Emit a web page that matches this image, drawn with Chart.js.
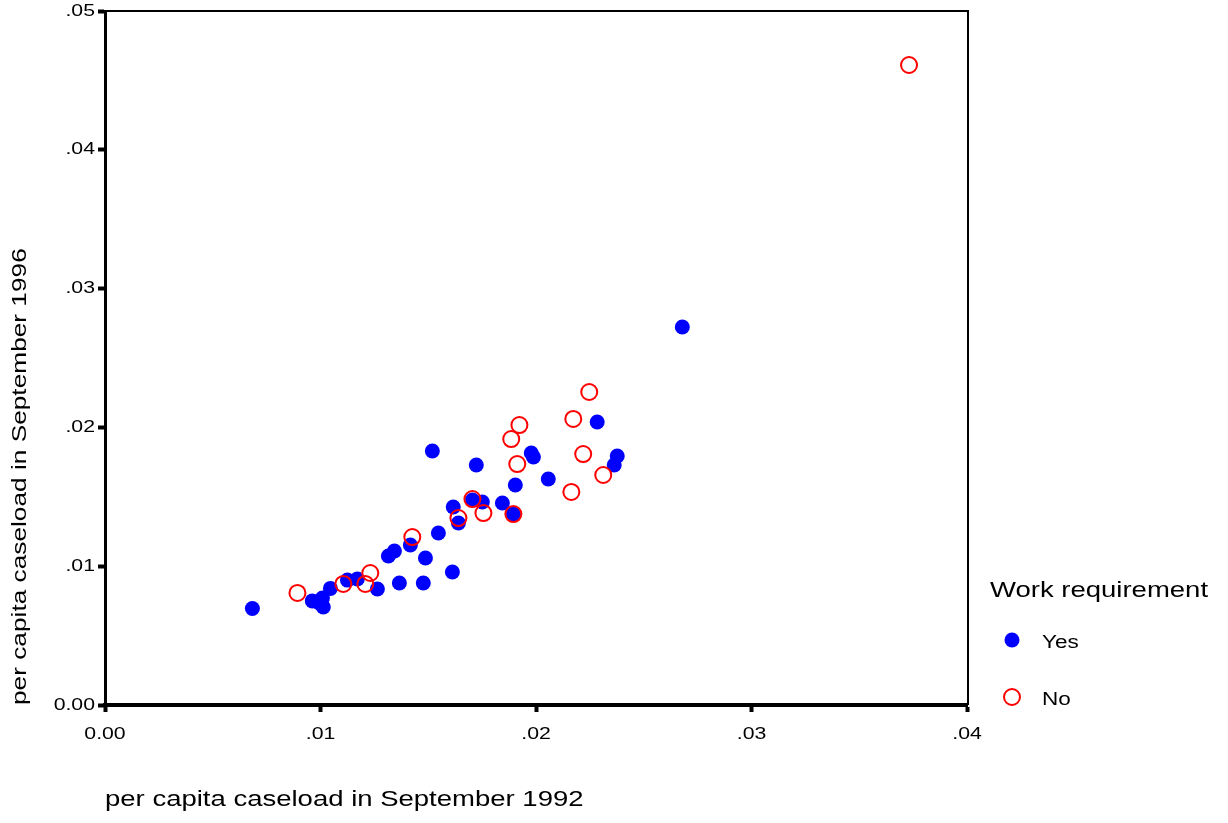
<!DOCTYPE html>
<html><head><meta charset="utf-8">
<style>html,body{margin:0;padding:0;background:#fff;overflow:hidden}</style>
<script src="https://cdn.jsdelivr.net/npm/chart.js@4/dist/chart.umd.min.js"></script>
</head><body>
<canvas id="c" width="1228" height="823" style="width:1228px;height:823px;display:block"></canvas>
<script>
const seriesNames = ['Yes', 'No'];
const legendTitle = 'Work requirement';
const xTitle = 'per capita caseload in September 1992';
const yTitle = 'per capita caseload in September 1996';
const xTickLabels = ['0.00', '.01', '.02', '.03', '.04'];
const yTickLabels = ['0.00', '.01', '.02', '.03', '.04', '.05'];

const yesX = [0.00684, 0.00962, 0.01009, 0.01013, 0.00995, 0.01046, 0.01125, 0.01171, 0.01264, 0.01315, 0.01343,
  0.01366, 0.01417, 0.01487, 0.01477, 0.01519, 0.01547, 0.01616, 0.01612, 0.01640, 0.01705, 0.01751, 0.01723,
  0.01844, 0.01895, 0.01904, 0.01978, 0.01988, 0.02057, 0.02284, 0.02363, 0.02377, 0.02679];
const yesY = [0.00695, 0.00750, 0.00770, 0.00706, 0.00735, 0.00840, 0.00900, 0.00908, 0.00836, 0.01073, 0.01110,
  0.00879, 0.01153, 0.01059, 0.00879, 0.01830, 0.01239, 0.01427, 0.00958, 0.01311, 0.01477, 0.01463, 0.01729,
  0.01455, 0.01376, 0.01585, 0.01816, 0.01787, 0.01628, 0.02039, 0.01729, 0.01794, 0.02723];

const noX = [0.00893, 0.01106, 0.01208, 0.01231, 0.01426, 0.01640, 0.01705, 0.01756, 0.01895, 0.01913, 0.01885,
  0.01923, 0.02164, 0.02173, 0.02219, 0.02247, 0.02312, 0.03731];
const noY = [0.00807, 0.00872, 0.00872, 0.00951, 0.01210, 0.01347, 0.01484, 0.01383, 0.01376, 0.01736, 0.01916,
  0.02017, 0.01535, 0.02061, 0.01808, 0.02255, 0.01657, 0.04611];

const FONT = "'Liberation Sans', Arial, sans-serif";
const TEXT_STRETCH = 1.25;
const toPts = (xs, ys) => xs.map((x, i) => ({x: x, y: ys[i]}));

// The reference renders its text horizontally widened; mimic that for all canvas text.
const stretchPlugin = {
  id: 'stretchText',
  beforeInit(chart) {
    const ctx = chart.ctx;
    const orig = ctx.fillText.bind(ctx);
    ctx.fillText = function (text, x, y, maxWidth) {
      ctx.save();
      ctx.translate(x, y);
      ctx.scale(TEXT_STRETCH, 1);
      if (maxWidth !== undefined && maxWidth !== null) orig(text, 0, 0, maxWidth / TEXT_STRETCH);
      else orig(text, 0, 0);
      ctx.restore();
    };
  }
};

const framePlugin = {
  id: 'frame',
  beforeDatasetsDraw(chart) {
    const {ctx, chartArea: a} = chart;
    ctx.save();
    ctx.strokeStyle = '#000';
    ctx.lineWidth = 2;
    ctx.beginPath();
    ctx.moveTo(a.left, a.top); ctx.lineTo(a.right + 1, a.top); ctx.lineTo(a.right + 1, a.bottom);
    ctx.stroke();
    ctx.restore();
  }
};

const legendPlugin = {
  id: 'sideLegend',
  afterDraw(chart) {
    const ctx = chart.ctx;
    ctx.save();
    ctx.fillStyle = '#000';
    ctx.textBaseline = 'middle';
    ctx.textAlign = 'left';
    ctx.font = '22px ' + FONT;
    ctx.fillText(legendTitle, 990, 591);
    const rows = [640, 697];
    chart.data.datasets.forEach((ds, i) => {
      const y = rows[i];
      ctx.beginPath();
      ctx.arc(1012, y, ds.pointRadius, 0, Math.PI * 2);
      if (ds.pointBorderWidth > 0) {
        ctx.lineWidth = ds.pointBorderWidth;
        ctx.strokeStyle = ds.pointBorderColor;
        ctx.stroke();
      } else {
        ctx.fillStyle = ds.pointBackgroundColor;
        ctx.fill();
      }
      ctx.fillStyle = '#000';
      ctx.font = '18px ' + FONT;
      ctx.fillText(ds.label, 1042, y + 3);
    });
    ctx.restore();
  }
};

new Chart(document.getElementById('c'), {
  type: 'scatter',
  data: {
    datasets: [
      {label: seriesNames[0], data: toPts(yesX, yesY), order: 1,
       pointStyle: 'circle', pointRadius: 7.5, pointBackgroundColor: '#0000ff',
       pointBorderColor: '#0000ff', pointBorderWidth: 0},
      {label: seriesNames[1], data: toPts(noX, noY), order: 0,
       pointStyle: 'circle', pointRadius: 8, pointBackgroundColor: 'rgba(0,0,0,0)',
       pointBorderColor: '#ff0000', pointBorderWidth: 2}
    ]
  },
  options: {
    responsive: false, animation: false, devicePixelRatio: 1, events: [],
    layout: {padding: {left: 0, top: 11, right: 261, bottom: 0}},
    plugins: {legend: {display: false}, tooltip: {enabled: false}},
    scales: {
      x: {
        type: 'linear', position: 'bottom', min: 0, max: 0.04,
        afterFit(s) { s.height = 118; s.paddingLeft = 0; s.paddingRight = 0; },
        grid: {drawOnChartArea: false, drawTicks: true, tickLength: 7, tickWidth: 4, color: '#000'},
        border: {display: true, color: '#000', width: 4},
        ticks: {stepSize: 0.01, autoSkip: false, maxRotation: 0, padding: 12, color: '#000',
                font: {family: FONT, size: 17}, callback: (v, i) => xTickLabels[i]},
        title: {display: true, text: xTitle, align: 'start', color: '#000',
                font: {family: FONT, size: 22}, padding: {top: 0, bottom: 10}}
      },
      y: {
        type: 'linear', min: 0, max: 0.05,
        afterFit(s) { s.width = 105; s.paddingTop = 0; s.paddingBottom = 0; },
        grid: {drawOnChartArea: false, drawTicks: true, tickLength: 7, tickWidth: 4, color: '#000'},
        border: {display: true, color: '#000', width: 3},
        ticks: {stepSize: 0.01, autoSkip: false, padding: 3, color: '#000',
                font: {family: FONT, size: 17}, callback: (v, i) => yTickLabels[i]},
        title: {display: true, text: yTitle, align: 'start', color: '#000',
                font: {family: FONT, size: 21}, padding: {top: 8, bottom: 0}}
      }
    }
  },
  plugins: [stretchPlugin, framePlugin, legendPlugin]
});
</script>
</body></html>
